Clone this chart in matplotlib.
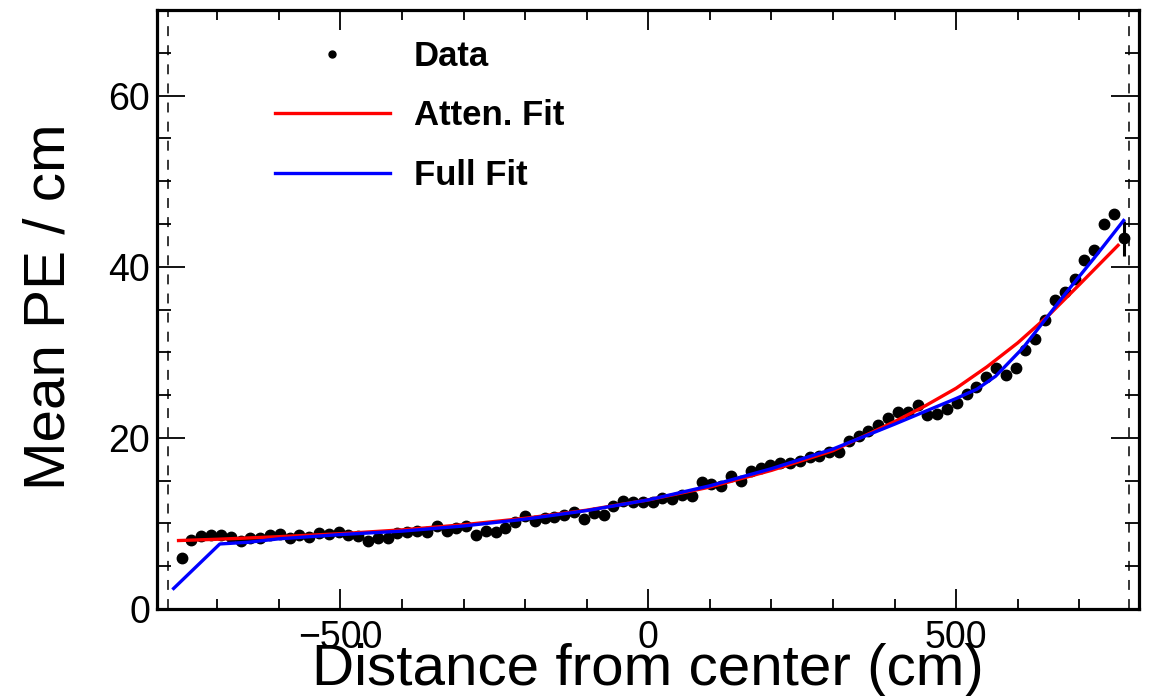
import numpy as np
import matplotlib
matplotlib.use('Agg')
import matplotlib.pyplot as plt
from matplotlib.lines import Line2D
from matplotlib.ticker import MultipleLocator

plt.rcParams['font.family'] = ['Liberation Sans', 'DejaVu Sans']

# bin centres (cm) and mean PE per cm
dist = np.linspace(-758, 772, 97)
mean_pe = [6.0, 8.1, 8.5, 8.6, 8.7, 8.4, 7.9, 8.25, 8.25, 8.6,
           8.75, 8.25, 8.6, 8.45, 8.9, 8.75, 8.95, 8.65, 8.55, 8.0,
           8.25, 8.25, 8.9, 9.05, 9.15, 9.0, 9.65, 9.15, 9.45, 9.65,
           8.7, 9.15, 9.05, 9.45, 10.2, 10.9, 10.3, 10.6, 10.8, 11.0,
           11.3, 10.5, 11.2, 11.0, 12.0, 12.65, 12.5, 12.5, 12.5, 12.95,
           12.9, 13.3, 13.15, 14.85, 14.6, 14.4, 15.5, 15.0, 16.15, 16.45,
           16.8, 17.05, 17.1, 17.3, 17.8, 17.9, 18.4, 18.3, 19.6, 20.2,
           20.8, 21.55, 22.3, 23.0, 23.0, 23.85, 22.7, 22.8, 23.35, 24.1,
           25.1, 25.9, 27.15, 28.2, 27.4, 28.2, 30.3, 31.6, 33.8, 36.1,
           37.1, 38.6, 40.8, 42.0, 45.0, 46.15, 43.3]
pe_err = [0.5] + [0.3] * 95 + [2.0]

# fit curves
atten_x = [-763, -700, -600, -500, -400, -300, -200, -100, 0, 100,
           200, 300, 400, 450, 500, 550, 600, 650, 700, 763]
atten_y = [8.0, 8.15, 8.45, 8.8, 9.25, 9.85, 10.6, 11.55, 12.75, 14.25,
           16.2, 18.5, 21.9, 23.75, 25.8, 28.3, 31.1, 34.3, 37.9, 42.5]

full_x = [-771, -696, -650, -600, -500, -400, -300, -200, -100, 0, 100,
          200, 300, 400, 450, 500, 534, 564, 609, 639, 679, 724, 772]
full_y = [2.4, 7.6, 7.8, 8.2, 8.7, 9.1, 9.7, 10.5, 11.5, 12.75, 14.4,
          16.4, 18.7, 21.6, 23.1, 24.6, 25.7, 27.2, 30.55, 33.3, 37.0, 41.0, 45.4]

fiber_ends = [-780, 780]

W, H = 1151, 696
fig = plt.figure(figsize=(W / 100, H / 100), dpi=100)
ax = fig.add_axes([157 / W, 1 - 609 / H, (1139 - 157) / W, (609 - 10) / H])

for xe in fiber_ends:
    ax.axvline(xe, color='black', lw=1.1, ls=(0, (6.5, 6)), zorder=1)

ax.errorbar(dist, mean_pe, yerr=pe_err, fmt='o', color='black', ms=7.5,
            elinewidth=2.2, capsize=0, zorder=3)
ax.plot(atten_x, atten_y, color='red', lw=2.4, zorder=4)
ax.plot(full_x, full_y, color='blue', lw=2.4, zorder=5)

ax.set_xlim(-798, 797)
ax.set_ylim(0, 70)
ax.xaxis.set_major_locator(MultipleLocator(500))
ax.xaxis.set_minor_locator(MultipleLocator(100))
ax.yaxis.set_major_locator(MultipleLocator(20))
ax.yaxis.set_minor_locator(MultipleLocator(5))
ax.tick_params(which='both', direction='in', top=True, right=True, width=1.3)
ax.tick_params(axis='x', which='major', length=14.5, labelsize=27, pad=8)
ax.tick_params(axis='x', which='minor', length=7.2)
ax.tick_params(axis='y', which='major', length=20, labelsize=27, pad=5)
ax.tick_params(axis='y', which='minor', length=10)
for sp in ax.spines.values():
    sp.set_linewidth(2.3)

fig.text(648 / W, 1 - 685 / H, 'Distance from center (cm)', ha='center',
         va='baseline', fontsize=42)
fig.text(50 / W, 1 - 307 / H, 'Mean PE / cm', rotation=90, ha='center',
         va='center', fontsize=42)

handles = [Line2D([], [], ls='none', marker='o', color='black', ms=5),
           Line2D([], [], color='red', lw=2.4),
           Line2D([], [], color='blue', lw=2.4)]
ax.legend(handles, ['Data', 'Atten. Fit', 'Full Fit'], loc='upper left',
          bbox_to_anchor=(275 / W, 1 - 40 / H), bbox_transform=fig.transFigure,
          frameon=False, prop={'weight': 'bold', 'size': 25},
          handlelength=3.3, handletextpad=0.7, labelspacing=0.76,
          borderpad=0, borderaxespad=0)

fig.savefig('out.png', dpi=100)
